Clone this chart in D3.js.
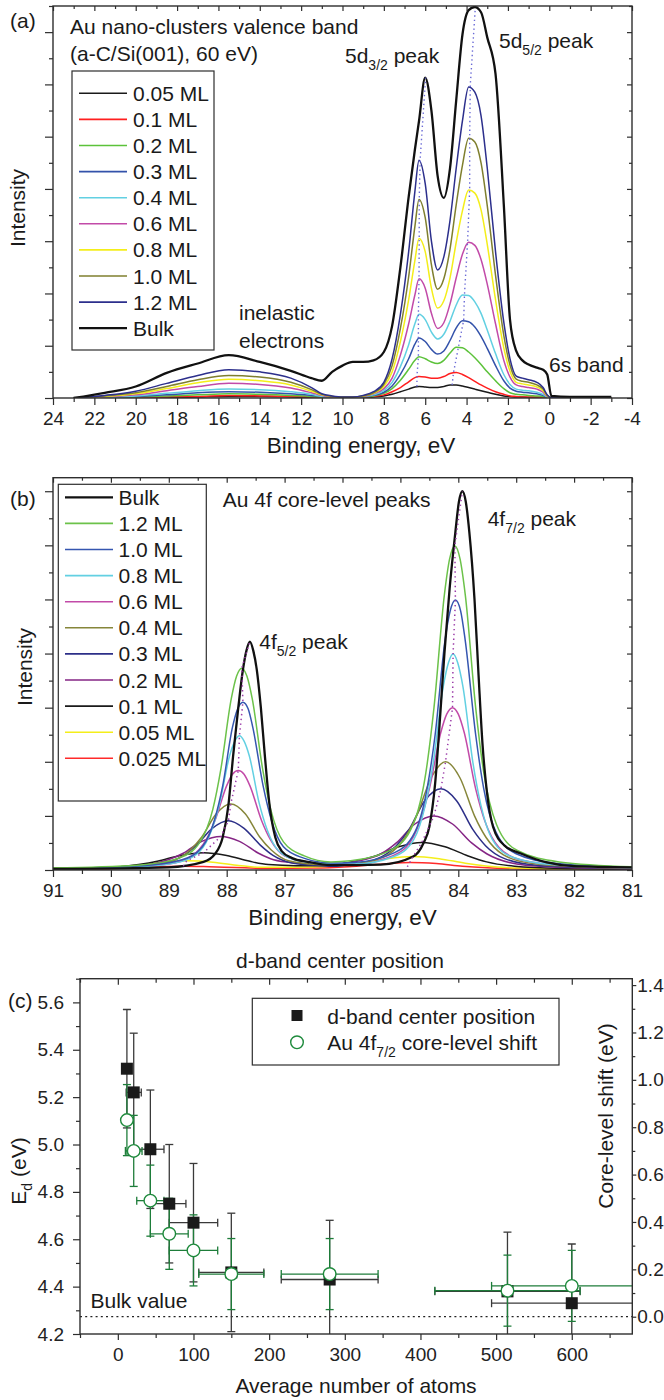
<!DOCTYPE html>
<html><head><meta charset="utf-8">
<script src="https://cdn.jsdelivr.net/npm/d3@7"></script>
<style>
body{margin:0;background:#fff;}
svg{display:block;font-family:"Liberation Sans",Arial,Helvetica,sans-serif;}
</style></head><body>
<svg id="chart" width="664" height="1400"></svg>
<script>
// ---------------- Panel (a): valence band ----------------
const valenceEnergy = [23, 21.5, 20, 18.5, 17, 15.5, 14, 12.5, 11.5, 11, 10.5, 10, 9.5, 9, 8.5, 8, 7.6, 7.2, 6.8, 6.5, 6.3, 6.0, 5.7, 5.4, 5.1, 4.8, 4.5, 4.2, 3.9, 3.6, 3.3, 3.0, 2.6, 2.2, 1.9, 1.6, 1.3, 1.0, 0.6, 0.3, 0.1, -0.1, -1, -3];
const valenceLabels = ["0.05 ML","0.1 ML","0.2 ML","0.3 ML","0.4 ML","0.6 ML","0.8 ML","1.0 ML","1.2 ML","Bulk"];
const val005 = [0, 0, 0.01, 0.01, 0.02, 0.03, 0.03, 0.02, 0.01, 0.01, 0.01, 0.01, 0.01, 0.01, 0.02, 0.04, 0.07, 0.12, 0.17, 0.21, 0.22, 0.21, 0.2, 0.2, 0.22, 0.25, 0.25, 0.23, 0.2, 0.17, 0.14, 0.11, 0.07, 0.04, 0.03, 0.02, 0.02, 0.01, 0.01, 0.01, 0, 0, 0, 0];
const val01 = [0, 0, 0.01, 0.02, 0.03, 0.05, 0.04, 0.03, 0.02, 0.01, 0.01, 0.01, 0.01, 0.02, 0.03, 0.06, 0.12, 0.2, 0.31, 0.39, 0.41, 0.4, 0.38, 0.38, 0.41, 0.47, 0.49, 0.45, 0.39, 0.32, 0.25, 0.19, 0.12, 0.07, 0.04, 0.03, 0.02, 0.02, 0.02, 0.01, 0, 0, 0, 0];
const val02 = [0, 0.01, 0.02, 0.04, 0.06, 0.08, 0.07, 0.05, 0.03, 0.02, 0.01, 0.01, 0.01, 0.02, 0.04, 0.09, 0.18, 0.34, 0.55, 0.72, 0.79, 0.75, 0.69, 0.66, 0.72, 0.86, 0.97, 0.96, 0.88, 0.77, 0.64, 0.5, 0.33, 0.18, 0.1, 0.07, 0.06, 0.05, 0.04, 0.03, 0.01, 0, 0, 0];
const val03 = [0, 0.01, 0.03, 0.06, 0.1, 0.12, 0.11, 0.08, 0.05, 0.03, 0.02, 0.01, 0.01, 0.02, 0.05, 0.11, 0.23, 0.45, 0.75, 1.03, 1.15, 1.08, 0.93, 0.84, 0.9, 1.1, 1.34, 1.48, 1.46, 1.36, 1.18, 0.95, 0.62, 0.33, 0.19, 0.13, 0.11, 0.1, 0.08, 0.05, 0.01, 0, 0, 0];
const val04 = [0, 0.01, 0.04, 0.09, 0.14, 0.17, 0.16, 0.12, 0.07, 0.03, 0.02, 0.01, 0.01, 0.03, 0.06, 0.14, 0.3, 0.6, 1.02, 1.42, 1.6, 1.5, 1.26, 1.13, 1.22, 1.47, 1.78, 1.97, 1.96, 1.84, 1.62, 1.3, 0.85, 0.45, 0.26, 0.17, 0.15, 0.14, 0.11, 0.07, 0.02, 0, 0, 0];
const val06 = [0, 0.02, 0.06, 0.14, 0.22, 0.28, 0.26, 0.19, 0.1, 0.05, 0.02, 0.02, 0.02, 0.03, 0.08, 0.18, 0.38, 0.82, 1.42, 1.97, 2.28, 2.1, 1.62, 1.33, 1.44, 1.8, 2.3, 2.75, 2.98, 2.92, 2.65, 2.18, 1.42, 0.72, 0.4, 0.25, 0.22, 0.2, 0.17, 0.11, 0.03, 0.01, 0, 0];
const val08 = [0, 0.03, 0.08, 0.18, 0.29, 0.36, 0.33, 0.25, 0.13, 0.06, 0.03, 0.02, 0.02, 0.04, 0.09, 0.22, 0.5, 1.08, 1.88, 2.63, 3.05, 2.8, 2.1, 1.72, 1.86, 2.3, 2.98, 3.58, 3.98, 3.92, 3.6, 2.94, 1.88, 0.96, 0.51, 0.3, 0.27, 0.25, 0.21, 0.14, 0.04, 0.01, 0, 0];
const val10 = [0, 0.04, 0.1, 0.22, 0.35, 0.43, 0.4, 0.3, 0.16, 0.07, 0.03, 0.02, 0.02, 0.04, 0.1, 0.26, 0.62, 1.33, 2.32, 3.28, 3.8, 3.45, 2.55, 2.08, 2.28, 2.85, 3.7, 4.45, 4.97, 4.9, 4.5, 3.68, 2.35, 1.2, 0.63, 0.36, 0.32, 0.3, 0.25, 0.17, 0.05, 0.01, 0, 0];
const val12 = [0, 0.05, 0.13, 0.28, 0.43, 0.54, 0.5, 0.38, 0.2, 0.08, 0.04, 0.02, 0.02, 0.05, 0.12, 0.3, 0.75, 1.6, 2.8, 3.95, 4.55, 4.1, 3.0, 2.45, 2.7, 3.4, 4.4, 5.3, 5.95, 5.85, 5.4, 4.4, 2.8, 1.45, 0.75, 0.42, 0.38, 0.35, 0.3, 0.2, 0.06, 0.01, 0, 0];
const valBulk = [0, 0.1, 0.22, 0.48, 0.66, 0.82, 0.69, 0.52, 0.38, 0.33, 0.5, 0.62, 0.69, 0.69, 0.72, 0.88, 1.38, 2.5, 3.85, 4.75, 5.3, 6.13, 5.5, 4.25, 3.83, 4.4, 5.7, 6.95, 7.42, 7.48, 7.38, 6.9, 6.2, 3.7, 1.5, 0.9, 0.72, 0.64, 0.58, 0.54, 0.45, 0.04, 0.02, 0.02];
const valencePeak32 = [[6.4,0.22],[6.4,0.41],[6.33,0.79],[6.33,1.15],[6.33,1.6],[6.3,2.28],[6.29,3.05],[6.29,3.8],[6.24,4.59],[5.98,6.13]];
const valencePeak52 = [[4.7,0.25],[4.63,0.49],[4.39,0.98],[4.14,1.49],[4.1,1.99],[3.95,2.99],[3.85,3.99],[3.85,5.0],[3.82,5.99],[3.58,7.45]];
const valenceXTicks = [24,22,20,18,16,14,12,10,8,6,4,2,0,-2,-4];

// ---------------- Panel (b): Au 4f core level ----------------
const coreLabels = ["Bulk","1.2 ML","1.0 ML","0.8 ML","0.6 ML","0.4 ML","0.3 ML","0.2 ML","0.1 ML","0.05 ML","0.025 ML"];
const coreBulk = [[91,0.02],[89.01,0.05],[88.4,0.15],[88.2,0.3],[88.07,0.6],[87.97,1.2],[87.89,2.1],[87.8,3.0],[87.72,3.7],[87.66,4.05],[87.6,4.22],[87.54,4.05],[87.48,3.7],[87.41,3.0],[87.34,2.1],[87.26,1.2],[87.16,0.6],[87.05,0.35],[86.87,0.22],[86.6,0.15],[86.2,0.09],[85.34,0.1],[84.78,0.25],[84.6,0.5],[84.5,0.8],[84.4,1.6],[84.31,2.9],[84.24,4.0],[84.15,5.2],[84.05,6.25],[83.99,6.8],[83.93,7.0],[83.87,6.8],[83.81,6.25],[83.72,5.0],[83.65,3.6],[83.58,2.3],[83.51,1.48],[83.4,0.8],[83.2,0.45],[82.93,0.31],[82.47,0.14],[82.0,0.07],[81,0.05]];
const core12 = [[91,0.04],[89.54,0.09],[88.82,0.22],[88.46,0.52],[88.24,1.12],[88.1,1.87],[87.92,3.17],[87.83,3.58],[87.74,3.73],[87.65,3.58],[87.56,3.17],[87.38,1.87],[87.24,1.12],[87.02,0.52],[86.66,0.26],[86.2,0.15],[85.86,0.17],[85.14,0.38],[84.78,0.84],[84.56,1.8],[84.42,3.0],[84.24,5.09],[84.15,5.75],[84.06,5.99],[83.97,5.75],[83.88,5.09],[83.7,3.0],[83.56,1.8],[83.34,0.84],[82.98,0.36],[82.26,0.15],[81,0.06]];
const core10 = [[91,0.03],[89.47,0.08],[88.77,0.19],[88.42,0.43],[88.21,0.93],[88.07,1.55],[87.9,2.64],[87.81,2.98],[87.72,3.1],[87.63,2.98],[87.55,2.64],[87.37,1.55],[87.23,0.93],[87.02,0.43],[86.67,0.22],[86.2,0.13],[85.8,0.14],[85.1,0.32],[84.75,0.7],[84.54,1.5],[84.4,2.5],[84.23,4.24],[84.14,4.79],[84.05,4.99],[83.96,4.79],[83.88,4.24],[83.7,2.5],[83.56,1.5],[83.35,0.7],[83.0,0.3],[82.3,0.12],[81,0.05]];
const core08 = [[91,0.03],[89.48,0.06],[88.8,0.15],[88.46,0.35],[88.26,0.74],[88.12,1.24],[87.95,2.11],[87.86,2.38],[87.78,2.48],[87.7,2.38],[87.61,2.11],[87.44,1.24],[87.3,0.74],[87.1,0.35],[86.76,0.17],[86.2,0.11],[85.79,0.11],[85.11,0.25],[84.77,0.56],[84.57,1.2],[84.43,2.0],[84.26,3.39],[84.17,3.83],[84.09,3.99],[84.01,3.83],[83.92,3.39],[83.75,2.0],[83.61,1.2],[83.41,0.56],[83.07,0.24],[82.39,0.1],[81,0.04]];
const core06 = [[91,0.03],[89.8,0.05],[89.0,0.11],[88.6,0.26],[88.36,0.55],[88.2,0.92],[88.0,1.56],[87.9,1.77],[87.8,1.84],[87.7,1.77],[87.6,1.56],[87.4,0.92],[87.24,0.55],[87.0,0.26],[86.6,0.15],[86.2,0.1],[85.8,0.1],[85.3,0.2],[84.9,0.42],[84.66,0.9],[84.5,1.5],[84.3,2.55],[84.2,2.88],[84.1,3.0],[84.0,2.88],[83.9,2.55],[83.7,1.5],[83.54,0.9],[83.3,0.42],[82.9,0.18],[82.1,0.08],[81,0.04]];
const core04 = [[91,0.02],[90.43,0.03],[89.43,0.07],[88.93,0.17],[88.63,0.37],[88.43,0.61],[88.18,1.04],[87.93,1.22],[87.68,1.04],[87.43,0.61],[87.23,0.37],[86.93,0.17],[86.43,0.1],[86.1,0.09],[85.72,0.12],[85.22,0.28],[84.92,0.6],[84.72,1.0],[84.47,1.7],[84.22,2.0],[83.97,1.7],[83.72,1.0],[83.52,0.6],[83.22,0.28],[82.72,0.12],[81.72,0.05],[81,0.03]];
const core03 = [[91,0.02],[90.72,0.02],[89.62,0.055],[89.07,0.13],[88.74,0.27],[88.52,0.46],[88.25,0.77],[87.97,0.91],[87.7,0.77],[87.42,0.46],[87.2,0.27],[86.87,0.13],[86.4,0.08],[86.1,0.07],[85.95,0.09],[85.4,0.21],[85.07,0.45],[84.85,0.75],[84.58,1.28],[84.3,1.5],[84.03,1.28],[83.75,0.75],[83.53,0.45],[83.2,0.21],[82.65,0.09],[81.55,0.04],[81,0.03]];
const core02 = [[91,0.02],[90.05,0.04],[89.4,0.09],[89.01,0.19],[88.75,0.31],[88.43,0.53],[88.1,0.62],[87.78,0.53],[87.45,0.31],[87.19,0.19],[86.8,0.13],[86.2,0.1],[85.72,0.17],[85.33,0.3],[85.07,0.5],[84.75,0.85],[84.42,1.0],[84.1,0.85],[83.77,0.5],[83.51,0.3],[83.12,0.14],[82.47,0.06],[81.17,0.025],[81,0.02]];
const core01 = [[91,0.02],[90.0,0.045],[89.52,0.1],[89.2,0.16],[88.8,0.27],[88.4,0.32],[88.0,0.27],[87.6,0.16],[87.28,0.1],[86.8,0.08],[86.2,0.09],[85.75,0.17],[85.43,0.26],[85.03,0.43],[84.63,0.51],[84.23,0.43],[83.83,0.26],[83.51,0.15],[83.03,0.07],[82.23,0.03],[81,0.015]];
const core005 = [[91,0.015],[90.49,0.024],[89.95,0.05],[89.59,0.085],[89.14,0.145],[88.69,0.17],[88.24,0.145],[87.79,0.085],[87.43,0.05],[86.89,0.05],[86.2,0.07],[86.04,0.085],[85.68,0.125],[85.23,0.21],[84.78,0.25],[84.33,0.21],[83.88,0.125],[83.52,0.075],[82.98,0.035],[82.08,0.015],[81,0.01]];
const core0025 = [[91,0.01],[90.1,0.02],[89.65,0.045],[89.2,0.06],[88.75,0.07],[88.3,0.06],[87.85,0.045],[87.3,0.03],[86.5,0.035],[85.9,0.06],[85.3,0.11],[84.83,0.14],[84.38,0.12],[83.93,0.07],[83.5,0.04],[82.9,0.02],[82,0.01],[81,0.005]];
const corePeak52 = [[88.75,0.07],[88.69,0.17],[88.4,0.32],[88.1,0.62],[87.97,0.91],[87.93,1.22],[87.8,1.84],[87.78,2.48],[87.72,3.1],[87.74,3.73],[87.6,4.22]];
const corePeak72 = [[84.88,0.06],[84.78,0.25],[84.63,0.51],[84.42,1.0],[84.3,1.5],[84.22,2.0],[84.1,3.0],[84.09,3.99],[84.05,4.99],[84.06,5.99],[83.93,7.0]];
const coreXTicks = [91,90,89,88,87,86,85,84,83,82,81];

// ---------------- Panel (c): d-band centre & core-level shift ----------------
const atomCount = [12, 21, 43, 68, 100, 150, 280, 515, 600];
const dBandCenter = [5.32, 5.22, 4.98, 4.75, 4.67, 4.46, 4.43, 4.38, 4.33];
const dBandErr = [0.25, 0.25, 0.25, 0.25, 0.25, 0.25, 0.25, 0.25, 0.25];
const dBandAtomErr = [4, 10, 18, 22, 32, 43, 64, 96, 106];
const coreShift = [0.83, 0.70, 0.49, 0.35, 0.28, 0.18, 0.18, 0.11, 0.13];
const coreShiftErr = [0.15, 0.15, 0.15, 0.15, 0.15, 0.15, 0.15, 0.15, 0.15];
const coreShiftAtomErr = [5, 11, 18, 25, 32, 43, 64, 96, 106];
const bulkShift = 0;
const atomTicks = [0, 100, 200, 300, 400, 500, 600];
const edTicks = [4.2, 4.4, 4.6, 4.8, 5.0, 5.2, 5.4, 5.6];
const shiftTicks = [0.0, 0.2, 0.4, 0.6, 0.8, 1.0, 1.2, 1.4];

// ---------------- styles ----------------
const valenceColors = ["#1a1a1a","#ff1f1f","#5cc23a","#3352aa","#62d0e2","#c24aa8","#f4ee1a","#7f7f2e","#2c2f8c","#111111"];
const coreColors = ["#111111","#6cc24a","#3556b0","#62d0e2","#c24aa8","#86863a","#2c2f88","#852585","#1a1a1a","#f4ee1a","#ff2a2a"];
const AX = "#2e2e2e";
const FONT = "'Liberation Sans', Arial, Helvetica, sans-serif";

const svg = d3.select("#chart");

function tickAxis(g, axisFn, scale, values, size, pad, fmt) {
  const ax = axisFn(scale).tickValues(values).tickSize(size).tickSizeOuter(0).tickPadding(pad);
  ax.tickFormat(fmt || (() => ""));
  g.call(ax);
  g.select(".domain").remove();
  g.selectAll(".tick line").attr("stroke", AX).attr("stroke-width", 1.2);
  g.selectAll(".tick text").attr("font-size", 19).attr("fill", "#222").attr("font-family", FONT);
  return g;
}
function minorVals(lo, hi, step, majors) {
  const out = [];
  for (let v = lo; v <= hi + 1e-9; v += step) {
    const r = Math.round(v * 1000) / 1000;
    if (!majors.some(m => Math.abs(m - r) < 1e-6)) out.push(r);
  }
  return out;
}
function addText(x, y, str, size, anchor) {
  return svg.append("text").attr("x", x).attr("y", y).attr("font-size", size || 21)
    .attr("text-anchor", anchor || "start").attr("fill", "#1a1a1a").text(str);
}
function subText(x, y, parts, size) {
  const t = svg.append("text").attr("x", x).attr("y", y).attr("font-size", size || 21).attr("fill", "#1a1a1a");
  parts.forEach(p => {
    const s = t.append("tspan").text(p.t);
    if (p.sub) s.attr("font-size", 14).attr("dy", 7);
    if (p.back) s.attr("dy", -7);
  });
  return t;
}
function clip(id, x0, y0, x1, y1) {
  svg.append("clipPath").attr("id", id).append("rect")
    .attr("x", x0).attr("y", y0).attr("width", x1 - x0).attr("height", y1 - y0);
}

// ================= Panel (a) =================
{
  const L = 53, R = 632, T = 6, B = 398;
  const x = d3.scaleLinear().domain([24, -4]).range([L, R]);
  const y = d3.scaleLinear().domain([0, 7.5]).range([B, T]);
  clip("clipA", L, T, R, B);
  const g = svg.append("g").attr("clip-path", "url(#clipA)");
  const line = d3.line().x(d => x(d[0])).y(d => y(d[1])).curve(d3.curveMonotoneX);
  const curves = [val005, val01, val02, val03, val04, val06, val08, val10, val12, valBulk];
  curves.forEach((vals, i) => {
    const pts = valenceEnergy.map((e, j) => [e, vals[j]]);
    g.append("path").datum(pts).attr("d", line).attr("fill", "none")
      .attr("stroke", valenceColors[i]).attr("stroke-width", i === 9 ? 2.3 : 1.5)
      .attr("stroke-linejoin", "round");
  });
  const dl = d3.line().x(d => x(d[0])).y(d => y(d[1]));
  [valencePeak32, valencePeak52].forEach(p => {
    g.append("path").datum(p).attr("d", dl).attr("fill", "none")
      .attr("stroke", "#6a6ad6").attr("stroke-width", 1.4).attr("stroke-dasharray", "1.4,3");
  });
  tickAxis(svg.append("g").attr("transform", `translate(0,${B})`), d3.axisBottom, x, valenceXTicks, 7, 7, d => String(d));
  tickAxis(svg.append("g").attr("transform", `translate(0,${B})`), d3.axisBottom, x, minorVals(-4, 24, 1, valenceXTicks), 4, 3);
  tickAxis(svg.append("g").attr("transform", `translate(0,${T})`), d3.axisBottom, x, valenceXTicks, 5, 3);
  tickAxis(svg.append("g").attr("transform", `translate(0,${T})`), d3.axisBottom, x, minorVals(-4, 24, 1, valenceXTicks), 3, 3);
  const yMaj = [0,1,2,3,4,5,6,7], yMin = [0.5,1.5,2.5,3.5,4.5,5.5,6.5,7.5];
  tickAxis(svg.append("g").attr("transform", `translate(${L},0)`), d3.axisLeft, y, yMaj, 8, 3);
  tickAxis(svg.append("g").attr("transform", `translate(${L},0)`), d3.axisLeft, y, yMin, 4, 3);
  tickAxis(svg.append("g").attr("transform", `translate(${R},0)`), d3.axisLeft, y, yMaj, 5, 3);
  tickAxis(svg.append("g").attr("transform", `translate(${R},0)`), d3.axisLeft, y, yMin, 3, 3);
  svg.append("rect").attr("x", L).attr("y", T).attr("width", R - L).attr("height", B - T)
    .attr("fill", "none").attr("stroke", AX).attr("stroke-width", 1.4);
  svg.append("rect").attr("x", 72).attr("y", 71).attr("width", 142).attr("height", 279)
    .attr("fill", "#fff").attr("stroke", AX).attr("stroke-width", 1.2);
  valenceLabels.forEach((lab, i) => {
    const cy = 93.3 + i * 26.1;
    svg.append("line").attr("x1", 79).attr("x2", 127).attr("y1", cy).attr("y2", cy)
      .attr("stroke", valenceColors[i]).attr("stroke-width", i === 9 ? 2.2 : 1.6);
    addText(133, cy + 7.5, lab, 21);
  });
  addText(10, 28, "(a)", 21);
  addText(70, 34, "Au nano-clusters valence band", 21);
  addText(70, 61, "(a-C/Si(001), 60 eV)", 21);
  subText(345, 63, [{t: "5d"}, {t: "3/2", sub: true}, {t: " peak", back: true}]);
  subText(499, 48, [{t: "5d"}, {t: "5/2", sub: true}, {t: " peak", back: true}]);
  addText(239, 320, "inelastic", 21);
  addText(239, 348, "electrons", 21);
  addText(549, 372, "6s band", 21);
  addText(361, 453, "Binding energy, eV", 22.5, "middle");
  svg.append("text").attr("transform", "translate(25,208) rotate(-90)").attr("text-anchor", "middle")
    .attr("font-size", 21).attr("fill", "#1a1a1a").text("Intensity");
}

// ================= Panel (b) =================
{
  const L = 53, R = 632, T = 477.7, B = 870;
  const x = d3.scaleLinear().domain([91, 81]).range([L, R]);
  const y = d3.scaleLinear().domain([0, 7.25]).range([B, T]);
  clip("clipB", L, T, R, B);
  const g = svg.append("g").attr("clip-path", "url(#clipB)");
  const line = d3.line().x(d => x(d[0])).y(d => y(d[1])).curve(d3.curveMonotoneX);
  const curves = [coreBulk, core12, core10, core08, core06, core04, core03, core02, core01, core005, core0025];
  for (let i = curves.length - 1; i >= 0; i--) {
    const pts = curves[i].slice().sort((a, b) => b[0] - a[0]);
    g.append("path").datum(pts).attr("d", line).attr("fill", "none")
      .attr("stroke", coreColors[i]).attr("stroke-width", i === 0 ? 2.3 : 1.5)
      .attr("stroke-linejoin", "round");
  }
  const dl = d3.line().x(d => x(d[0])).y(d => y(d[1]));
  [corePeak52, corePeak72].forEach(p => {
    g.append("path").datum(p).attr("d", dl).attr("fill", "none")
      .attr("stroke", "#9a3aa8").attr("stroke-width", 1.5).attr("stroke-dasharray", "1.4,3.4");
  });
  tickAxis(svg.append("g").attr("transform", `translate(0,${B})`), d3.axisBottom, x, coreXTicks, 7, 7, d => String(d));
  tickAxis(svg.append("g").attr("transform", `translate(0,${B})`), d3.axisBottom, x, minorVals(81, 91, 0.5, coreXTicks), 4, 3);
  tickAxis(svg.append("g").attr("transform", `translate(0,${T})`), d3.axisBottom, x, coreXTicks, 5, 3);
  tickAxis(svg.append("g").attr("transform", `translate(0,${T})`), d3.axisBottom, x, minorVals(81, 91, 0.5, coreXTicks), 3, 3);
  const yMaj = [0,1,2,3,4,5,6,7], yMin = [0.5,1.5,2.5,3.5,4.5,5.5,6.5];
  tickAxis(svg.append("g").attr("transform", `translate(${L},0)`), d3.axisLeft, y, yMaj, 8, 3);
  tickAxis(svg.append("g").attr("transform", `translate(${L},0)`), d3.axisLeft, y, yMin, 4, 3);
  tickAxis(svg.append("g").attr("transform", `translate(${R},0)`), d3.axisLeft, y, yMaj, 5, 3);
  tickAxis(svg.append("g").attr("transform", `translate(${R},0)`), d3.axisLeft, y, yMin, 3, 3);
  svg.append("rect").attr("x", L).attr("y", T).attr("width", R - L).attr("height", B - T)
    .attr("fill", "none").attr("stroke", AX).attr("stroke-width", 1.4);
  svg.append("rect").attr("x", 58.3).attr("y", 484.3).attr("width", 148).attr("height", 316.7)
    .attr("fill", "#fff").attr("stroke", AX).attr("stroke-width", 1.2);
  coreLabels.forEach((lab, i) => {
    const cy = 497.3 + i * 26.1;
    svg.append("line").attr("x1", 65).attr("x2", 113).attr("y1", cy).attr("y2", cy)
      .attr("stroke", coreColors[i]).attr("stroke-width", i === 0 ? 2.2 : 1.6);
    addText(118.5, cy + 7.5, lab, 21);
  });
  addText(10, 506, "(b)", 21);
  addText(222.7, 507, "Au 4f core-level peaks", 21);
  subText(259.3, 649, [{t: "4f"}, {t: "5/2", sub: true}, {t: " peak", back: true}]);
  subText(487.7, 526, [{t: "4f"}, {t: "7/2", sub: true}, {t: " peak", back: true}]);
  addText(342.5, 925, "Binding energy, eV", 22.5, "middle");
  svg.append("text").attr("transform", "translate(32,667) rotate(-90)").attr("text-anchor", "middle")
    .attr("font-size", 21).attr("fill", "#1a1a1a").text("Intensity");
}

// ================= Panel (c) =================
{
  const L = 80, R = 632.3, T = 978.7, B = 1334;
  const x = d3.scaleLinear().domain([-50, 680]).range([L, R]);
  const y = d3.scaleLinear().domain([4.2, 5.7]).range([B, T]);
  const yR = d3.scaleLinear().domain([-0.073, 1.427]).range([B, T]);
  clip("clipC", L, T, R, B);
  const g = svg.append("g").attr("clip-path", "url(#clipC)");
  g.append("line").attr("x1", L).attr("x2", R).attr("y1", yR(bulkShift)).attr("y2", yR(bulkShift))
    .attr("stroke", "#222").attr("stroke-width", 1.2).attr("stroke-dasharray", "2,3.2");

  function errBars(vals, errs, aerrs, ys, color) {
    atomCount.forEach((n, i) => {
      const cx = x(n), cy = ys(vals[i]);
      const y0 = ys(vals[i] - errs[i]), y1 = ys(vals[i] + errs[i]);
      const x0 = x(n - aerrs[i]), x1 = x(n + aerrs[i]);
      const eg = g.append("g").attr("stroke", color).attr("stroke-width", 1.3);
      eg.append("line").attr("x1", cx).attr("x2", cx).attr("y1", y0).attr("y2", y1);
      eg.append("line").attr("x1", cx - 4).attr("x2", cx + 4).attr("y1", y0).attr("y2", y0);
      eg.append("line").attr("x1", cx - 4).attr("x2", cx + 4).attr("y1", y1).attr("y2", y1);
      eg.append("line").attr("x1", x0).attr("x2", x1).attr("y1", cy).attr("y2", cy);
      eg.append("line").attr("x1", x0).attr("x2", x0).attr("y1", cy - 4).attr("y2", cy + 4);
      eg.append("line").attr("x1", x1).attr("x2", x1).attr("y1", cy - 4).attr("y2", cy + 4);
    });
  }
  errBars(dBandCenter, dBandErr, dBandAtomErr, y, "#3a3a3a");
  errBars(coreShift, coreShiftErr, coreShiftAtomErr, yR, "#1e7d3a");
  atomCount.forEach((n, i) => {
    g.append("rect").attr("x", x(n) - 6).attr("y", y(dBandCenter[i]) - 6).attr("width", 12).attr("height", 12)
      .attr("fill", "#1a1a1a");
  });
  atomCount.forEach((n, i) => {
    g.append("circle").attr("cx", x(n)).attr("cy", yR(coreShift[i])).attr("r", 6.3)
      .attr("fill", "#fff").attr("stroke", "#1e8a3c").attr("stroke-width", 1.4);
  });
  const xMin = minorVals(-50, 650, 50, atomTicks);
  tickAxis(svg.append("g").attr("transform", `translate(0,${B})`), d3.axisBottom, x, atomTicks, 6, 8, d => String(d));
  tickAxis(svg.append("g").attr("transform", `translate(0,${B})`), d3.axisBottom, x, xMin, 4, 3);
  tickAxis(svg.append("g").attr("transform", `translate(0,${T})`), d3.axisBottom, x, atomTicks, 6, 3);
  tickAxis(svg.append("g").attr("transform", `translate(0,${T})`), d3.axisBottom, x, xMin, 4, 3);
  tickAxis(svg.append("g").attr("transform", `translate(${L},0)`), d3.axisLeft, y, edTicks, 7, 9, d => d.toFixed(1));
  tickAxis(svg.append("g").attr("transform", `translate(${L},0)`), d3.axisLeft, y, minorVals(4.3, 5.7, 0.2, edTicks), 4, 3);
  tickAxis(svg.append("g").attr("transform", `translate(${R},0)`), d3.axisRight, yR, shiftTicks, 4, 1, d => d.toFixed(1));
  tickAxis(svg.append("g").attr("transform", `translate(${R},0)`), d3.axisRight, yR, minorVals(0.1, 1.3, 0.2, shiftTicks), 3, 1);
  svg.append("rect").attr("x", L).attr("y", T).attr("width", R - L).attr("height", B - T)
    .attr("fill", "none").attr("stroke", AX).attr("stroke-width", 1.4);
  svg.append("rect").attr("x", 252.3).attr("y", 998.3).attr("width", 306.7).attr("height", 66.7)
    .attr("fill", "#fff").attr("stroke", AX).attr("stroke-width", 1.2);
  svg.append("rect").attr("x", 291.5).attr("y", 1010).attr("width", 11).attr("height", 11).attr("fill", "#1a1a1a");
  svg.append("circle").attr("cx", 297).attr("cy", 1042.3).attr("r", 6.3)
    .attr("fill", "#fff").attr("stroke", "#1e8a3c").attr("stroke-width", 1.4);
  addText(327.3, 1023.5, "d-band center position", 21);
  subText(327.3, 1049.5, [{t: "Au 4f"}, {t: "7/2", sub: true}, {t: " core-level shift", back: true}]);
  addText(8, 1008, "(c)", 21);
  addText(236, 968, "d-band center position", 21);
  addText(90.5, 1307.5, "Bulk value", 21);
  addText(356, 1393, "Average number of atoms", 21, "middle");
  const ed = svg.append("text").attr("transform", "translate(26,1171) rotate(-90)").attr("text-anchor", "middle")
    .attr("font-size", 21).attr("fill", "#1a1a1a");
  ed.append("tspan").text("E");
  ed.append("tspan").attr("font-size", 14).attr("dy", 6).text("d");
  ed.append("tspan").attr("dy", -6).text(" (eV)");
  svg.append("text").attr("transform", "translate(613,1116) rotate(-90)").attr("text-anchor", "middle")
    .attr("font-size", 21).attr("fill", "#1a1a1a").text("Core-level shift (eV)");
}
</script>
</body></html>
